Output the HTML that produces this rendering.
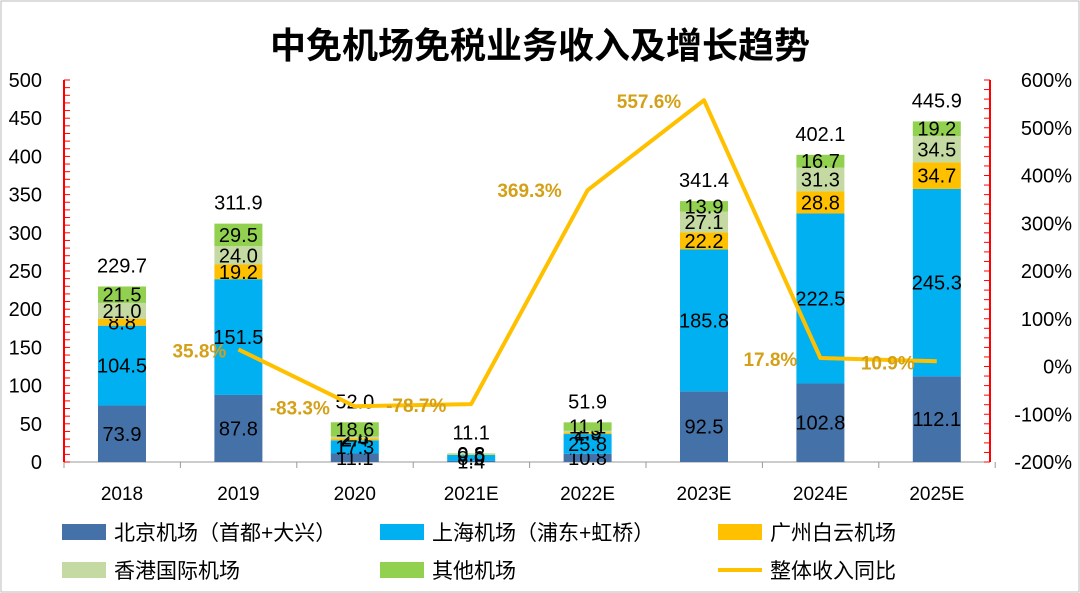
<!DOCTYPE html>
<html><head><meta charset="utf-8">
<style>
body{margin:0;background:#fff;}
svg{display:block;font-family:"Liberation Sans","Noto Sans CJK SC",sans-serif;}
</style></head><body>
<svg id="chart" width="1080" height="593">
<rect x="1" y="1" width="1078" height="591" fill="#fff" stroke="#bbb"/>
<text x="540" y="58" text-anchor="middle" font-size="36" font-weight="bold" fill="#000">中免机场免税业务收入及增长趋势</text>
<g id="axes"></g><g id="bars"></g><g id="line"></g><g id="legend"></g>
</svg>
<script>
const categories=["2018","2019","2020","2021E","2022E","2023E","2024E","2025E"];
const beijing=[73.9,87.8,11.1,1.4,10.8,92.5,102.8,112.1];
const shanghai=[104.5,151.5,17.3,8.0,25.8,185.8,222.5,245.3];
const guangzhou=[8.8,19.2,2.4,0.6,1.9,22.2,28.8,34.7];
const hongkong=[21.0,24.0,2.6,0.3,2.3,27.1,31.3,34.5];
const others=[21.5,29.5,18.6,0.8,11.1,13.9,16.7,19.2];
const totals=[229.7,311.9,52.0,11.1,51.9,341.4,402.1,445.9];
const growth=[null,35.8,-83.3,-78.7,369.3,557.6,17.8,10.9];
const leftTicks=[0,50,100,150,200,250,300,350,400,450,500];
const rightTicks=[-200,-100,0,100,200,300,400,500,600];
const NS="http://www.w3.org/2000/svg";
const y0=462,y1=80,xL=64,xR=990;
const yL=v=>y0-(v/500)*(y0-y1);
const yR=v=>y0-((v+200)/800)*(y0-y1);
const xC=i=>122+i*116.4;
function mk(tag,attrs,parent,txt){const e=document.createElementNS(NS,tag);for(const k in attrs)e.setAttribute(k,attrs[k]);if(txt!==undefined)e.textContent=txt;parent.appendChild(e);return e;}
const axes=document.getElementById('axes');
let e=mk('line',{x1:xL,y1:y0,x2:xR,y2:y0,stroke:'#999','stroke-width':1},axes);


for(let i=0;i<=categories.length;i++){const x=xL+i*116.4;mk('line',{x1:x,y1:y0,x2:x,y2:y0+6,stroke:'#999'},axes);}
categories.forEach((c,i)=>{const t=mk('text',{x:xC(i),y:500,'text-anchor':'middle','font-size':19,fill:'#000'},axes,c);

});
e=mk('line',{x1:xL,y1:y0,x2:xL,y2:y1,stroke:'#f00','stroke-width':2},axes);


for(let v=0;v<=500;v+=10){mk('line',{x1:xL,y1:yL(v),x2:xL+6,y2:yL(v),stroke:'#f00','stroke-width':1},axes);}
leftTicks.forEach(v=>{const t=mk('text',{x:42,y:yL(v)+7,'text-anchor':'end','font-size':20,fill:'#000'},axes,v);

});
e=mk('line',{x1:xR,y1:y0,x2:xR,y2:y1,stroke:'#f00','stroke-width':2},axes);


for(let v=-200;v<=600;v+=20){mk('line',{x1:xR-6,y1:yR(v),x2:xR,y2:yR(v),stroke:'#f00','stroke-width':1},axes);}
rightTicks.forEach(v=>{const t=mk('text',{x:1072,y:yR(v)+7,'text-anchor':'end','font-size':20,fill:'#000'},axes,v+'%');

});
const series=[[beijing,'#4472A8','beijing'],[shanghai,'#00B0F0','shanghai'],[guangzhou,'#FFC000','guangzhou'],[hongkong,'#C5D9A2','hongkong'],[others,'#92D050','others']];
const bars=document.getElementById('bars');
const bw=48;
categories.forEach((c,i)=>{let acc=0;
 series.forEach(([arr,col,nm])=>{const v=arr[i];const top=yL(acc+v),bot=yL(acc);
  const r=mk('rect',{x:xC(i)-bw/2,y:top,width:bw,height:bot-top,fill:col},bars);
  
  
  const t=mk('text',{x:xC(i),y:(top+bot)/2+7,'text-anchor':'middle','font-size':20,fill:'#000'},bars,v.toFixed(1));
  
  
  acc+=v;});
 const t=mk('text',{x:xC(i),y:yL(totals[i])-14,'text-anchor':'middle','font-size':20,fill:'#000'},bars,totals[i].toFixed(1));
 
 
});
const lg=document.getElementById('line');
const pts=[];growth.forEach((g,i)=>{if(g!==null)pts.push([xC(i),yR(g)]);});
const pl=mk('polyline',{points:pts.map(p=>p.join(',')).join(' '),fill:'none',stroke:'#FFC000','stroke-width':4,'stroke-linejoin':'round'},lg);


const off=[[0,0],[-39,8],[-55,8],[-55,8],[-58,7],[-55,8],[-50,8],[-49,8]];
growth.forEach((g,i)=>{if(g===null)return;
 const t=mk('text',{x:xC(i)+off[i][0],y:yR(g)+off[i][1],'text-anchor':'middle','font-size':19,'font-weight':'bold',fill:'#D4A017'},lg,g.toFixed(1)+'%');
 
 });
const legend=document.getElementById('legend');
const items=[['北京机场（首都+大兴）','#4472A8',62,536,'rect'],['上海机场（浦东+虹桥）','#00B0F0',380,536,'rect'],['广州白云机场','#FFC000',718,536,'rect'],['香港国际机场','#C5D9A2',62,574,'rect'],['其他机场','#92D050',380,574,'rect'],['整体收入同比','#FFC000',718,574,'line']];
items.forEach(([lab,col,x,y,kind])=>{
 let s;
 if(kind==='rect') s=mk('rect',{x:x,y:y-12,width:44,height:16,fill:col},legend);
 else s=mk('line',{x1:x,y1:y-4,x2:x+44,y2:y-4,stroke:col,'stroke-width':4},legend);
 
 
 const t=mk('text',{x:x+52,y:y+4,'font-size':21,fill:'#000'},legend,lab);
 
 
});
</script>
</body></html>
